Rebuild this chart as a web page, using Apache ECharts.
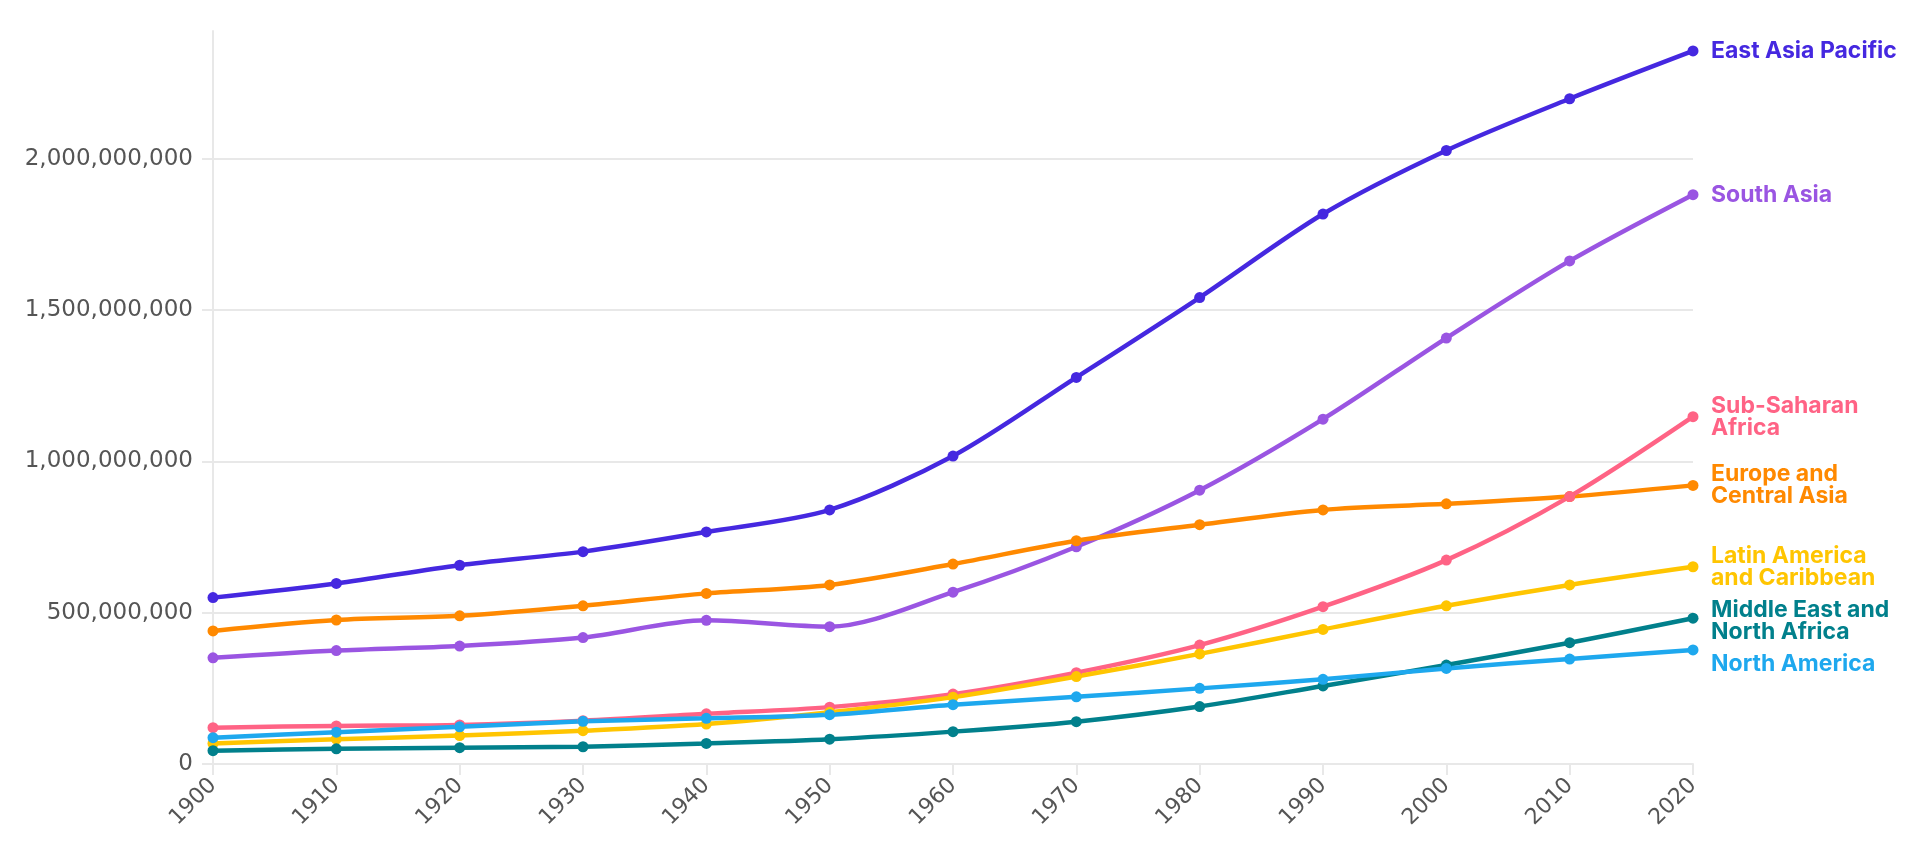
<!DOCTYPE html>
<html>
<head>
<meta charset="utf-8">
<script src="https://cdn.jsdelivr.net/npm/echarts@6/dist/echarts.min.js"></script>
<style>
html,body{margin:0;padding:0;background:#fff;}
#chart{width:1918px;height:866px;}
</style>
</head>
<body>
<div id="chart"></div>
<script>
const years = ['1900','1910','1920','1930','1940','1950','1960','1970','1980','1990','2000','2010','2020'];
const M = 1e6;
const eastAsiaPacific = [550, 597, 657, 702, 767, 840, 1018, 1278, 1542, 1818, 2028, 2199, 2357];
const southAsia = [351, 375, 390, 418, 475, 454, 568, 718, 905, 1140, 1408, 1663, 1882];
const europeCentralAsia = [440, 476, 490, 523, 564, 592, 661, 738, 791, 840, 860, 884, 921];
const subSaharanAfrica = [120, 126, 129, 143, 166, 188, 231, 302, 393, 520, 674, 884, 1148];
const latinAmerica = [68, 82, 94, 110, 132, 171, 221, 289, 364, 445, 523, 592, 652];
const middleEastNorthAfrica = [44, 50, 54, 57, 68, 82, 107, 140, 190, 258, 327, 401, 482];
const northAmerica = [87, 105, 123, 141, 151, 163, 196, 222, 250, 280, 316, 347, 377];
const yTicks = [0, 500000000, 1000000000, 1500000000, 2000000000];

const seriesDefs = [
  {name: 'East Asia Pacific', label: 'East Asia Pacific', data: eastAsiaPacific, color: '#4528e0'},
  {name: 'South Asia', label: 'South Asia', data: southAsia, color: '#9a55e2'},
  {name: 'Europe and Central Asia', label: 'Europe and\nCentral Asia', data: europeCentralAsia, color: '#ff8900'},
  {name: 'Sub-Saharan Africa', label: 'Sub-Saharan\nAfrica', data: subSaharanAfrica, color: '#ff6385'},
  {name: 'Latin America and Caribbean', label: 'Latin America\nand Caribbean', data: latinAmerica, color: '#ffc501'},
  {name: 'Middle East and North Africa', label: 'Middle East and\nNorth Africa', data: middleEastNorthAfrica, color: '#01808c'},
  {name: 'North America', label: 'North America', data: northAmerica, color: '#1ea8ee'}
];

const chart = echarts.init(document.getElementById('chart'), null, {renderer: 'canvas'});
const labelFont = 'Inter, "Noto Sans", sans-serif';
const axisFont = '"DejaVu Sans", sans-serif';

chart.setOption({
  animation: false,
  backgroundColor: '#ffffff',
  grid: {left: 213, right: 225, top: 31, bottom: 102, containLabel: false},
  xAxis: {
    type: 'category',
    data: years,
    boundaryGap: false,
    axisLine: {show: true, lineStyle: {color: '#e8e8e8', width: 2}},
    axisTick: {show: true, length: 11, alignWithLabel: true, lineStyle: {color: '#e8e8e8', width: 2}},
    axisLabel: {rotate: 45, margin: 18, fontFamily: axisFont, fontSize: 22, color: '#555555'},
    splitLine: {show: false}
  },
  yAxis: {
    type: 'value',
    min: 0,
    max: 2423000000,
    axisLine: {show: true, lineStyle: {color: '#e8e8e8', width: 2}},
    axisTick: {show: true, length: 11, customValues: yTicks, lineStyle: {color: '#e8e8e8', width: 2}},
    axisLabel: {
      customValues: yTicks,
      margin: 20,
      fontFamily: axisFont, fontSize: 23, color: '#555555',
      formatter: v => Math.round(v).toLocaleString('en-US')
    },
    splitLine: {show: true, lineStyle: {color: '#e8e8e8', width: 2}}
  },
  series: seriesDefs.map(s => ({
    name: s.name,
    type: 'line',
    data: s.data.map(v => v * M),
    smooth: 0.3,
    symbol: 'circle',
    symbolSize: 11,
    showSymbol: true,
    clip: false,
    lineStyle: {color: s.color, width: 4.5},
    itemStyle: {color: s.color},
    endLabel: {
      show: true,
      formatter: () => s.label,
      distance: 18,
      color: s.color,
      fontFamily: labelFont,
      fontWeight: 700,
      fontSize: 23,
      lineHeight: 22,
      padding: [5, 0, 5, 0]
    },
    labelLayout: {moveOverlap: 'shiftY'},
    emphasis: {disabled: true}
  }))
});
</script>
</body>
</html>
